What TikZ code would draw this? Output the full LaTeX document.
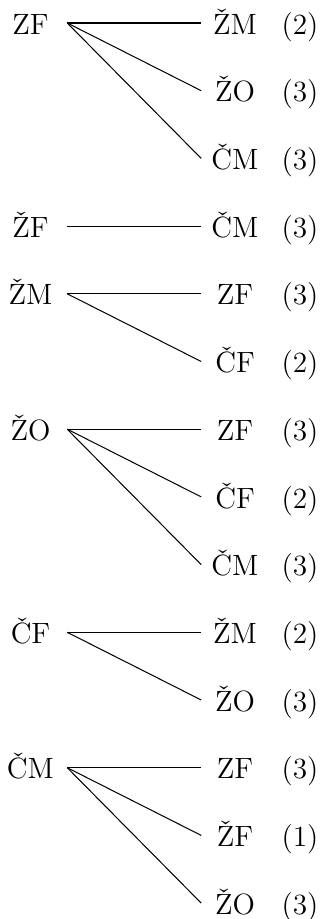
\documentclass[tikz,border=0pt]{standalone}
\begin{document}
\begin{tikzpicture}[x=0.392pt,y=-0.392pt,
  lab/.style={inner sep=0pt,text height=8.7pt,text depth=0pt,align=center,font=\fontsize{11.5pt}{13pt}\selectfont},
  src/.style={lab,minimum width=28.4pt},
  dst/.style={lab,minimum width=26.1pt},
  num/.style={lab},
  edge/.style={line width=0.4pt}]
\useasboundingbox (0,0) rectangle (323,919);
% rows
\def\ra{23}\def\rb{90.7}\def\rc{158.4}\def\rd{226.1}\def\re{293.8}\def\rf{361.5}\def\rg{429.2}
\def\rh{496.9}\def\ri{564.6}\def\rj{632.3}\def\rk{700}\def\rl{767.7}\def\rm{835.4}\def\rn{903.1}
% sources
\node[src] (s1) at (30.5,\ra) {ZF};
\node[src] (s2) at (30.5,\rd) {ŽF};
\node[src] (s3) at (30.5,\re) {ŽM};
\node[src] (s4) at (30.5,\rg) {ŽO};
\node[src] (s5) at (30.5,\rj) {ČF};
\node[src] (s6) at (30.5,\rl) {ČM};
% targets
\node[dst] (t0) at (235,\ra) {ŽM};  \node[num] (n0) at (300,\ra) {(2)};
\node[dst] (t1) at (235,\rb) {ŽO};  \node[num] (n1) at (300,\rb) {(3)};
\node[dst] (t2) at (235,\rc) {ČM};  \node[num] (n2) at (300,\rc) {(3)};
\node[dst] (t3) at (235,\rd) {ČM};  \node[num] (n3) at (300,\rd) {(3)};
\node[dst] (t4) at (235,\re) {ZF};  \node[num] (n4) at (300,\re) {(3)};
\node[dst] (t5) at (235,\rf) {ČF};  \node[num] (n5) at (300,\rf) {(2)};
\node[dst] (t6) at (235,\rg) {ZF};  \node[num] (n6) at (300,\rg) {(3)};
\node[dst] (t7) at (235,\rh) {ČF};  \node[num] (n7) at (300,\rh) {(2)};
\node[dst] (t8) at (235,\ri) {ČM};  \node[num] (n8) at (300,\ri) {(3)};
\node[dst] (t9) at (235,\rj) {ŽM};  \node[num] (n9) at (300,\rj) {(2)};
\node[dst] (t10) at (235,\rk) {ŽO}; \node[num] (n10) at (300,\rk) {(3)};
\node[dst] (t11) at (235,\rl) {ZF}; \node[num] (n11) at (300,\rl) {(3)};
\node[dst] (t12) at (235,\rm) {ŽF}; \node[num] (n12) at (300,\rm) {(1)};
\node[dst] (t13) at (235,\rn) {ŽO}; \node[num] (n13) at (300,\rn) {(3)};
% edges
\draw[edge] (s1.east) -- (t0.west);
\draw[edge] (s1.east) -- (t1.west);
\draw[edge] (s1.east) -- (t2.west);
\draw[edge] (s2.east) -- (t3.west);
\draw[edge] (s3.east) -- (t4.west);
\draw[edge] (s3.east) -- (t5.west);
\draw[edge] (s4.east) -- (t6.west);
\draw[edge] (s4.east) -- (t7.west);
\draw[edge] (s4.east) -- (t8.west);
\draw[edge] (s5.east) -- (t9.west);
\draw[edge] (s5.east) -- (t10.west);
\draw[edge] (s6.east) -- (t11.west);
\draw[edge] (s6.east) -- (t12.west);
\draw[edge] (s6.east) -- (t13.west);
\end{tikzpicture}
\end{document}
